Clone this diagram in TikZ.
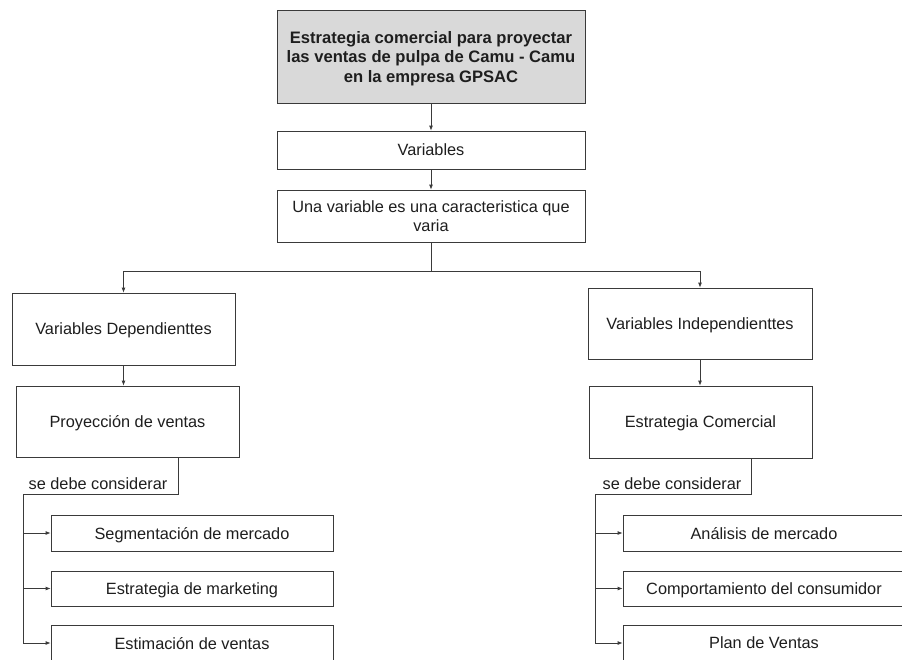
\documentclass[tikz,border=0pt]{standalone}
\usepackage{fontspec}
\setmainfont{Liberation Sans}
\usetikzlibrary{arrows.meta,calc}
\definecolor{boxline}{HTML}{3A3A3A}
\definecolor{txt}{HTML}{1E1E1E}
\definecolor{headfill}{HTML}{D9D9D9}
\tikzset{
  box/.style={draw=boxline, line width=0.8pt, fill=white, inner sep=2pt,
    align=center, text=txt, text depth=0pt, font=\fontsize{16.3}{19.5}\selectfont},
  headbox/.style={box, fill=headfill, font=\bfseries\fontsize{16.6}{19.5}\selectfont},
  link/.style={draw=boxline, line width=0.8pt},
  arr/.style={link, -{Latex[length=5pt,width=4pt]}},
  note/.style={text=txt, inner sep=0pt, font=\fontsize{16.3}{19.5}\selectfont}
}
\begin{document}
\begin{tikzpicture}[x=1pt,y=-1pt]
\useasboundingbox (0,0) rectangle (902,659);
\clip (0,0) rectangle (902,659);

% top of the tree
\node[headbox, minimum width=308, minimum height=93] (head) at (431,56.5)
  {Estrategia comercial para proyectar\\las ventas de pulpa de Camu - Camu\\en la empresa GPSAC};
\node[box, minimum width=308, minimum height=38] (vars) at (431,150) {Variables};
\node[box, minimum width=308, minimum height=52] (def) at (431,216)
  {Una variable es una caracteristica que\\varia};

% the two branches
\node[box, minimum width=223, minimum height=72] (dep) at (123.5,329) {Variables Dependienttes};
\node[box, minimum width=223, minimum height=71] (proy) at (127.5,421.5) {Proyección de ventas};
\node[box, minimum width=224, minimum height=71] (indep) at (700,323.5) {Variables Independienttes};
\node[box, minimum width=223, minimum height=72] (estr) at (700.5,422) {Estrategia Comercial};

% items under each branch
\node[box, minimum width=282, minimum height=36] (l1) at (192,533) {Segmentación de mercado};
\node[box, minimum width=282, minimum height=35] (l2) at (192,588.5) {Estrategia de marketing};
\node[box, minimum width=282, minimum height=36] (l3) at (192,643) {Estimación de ventas};
\node[box, minimum width=282, minimum height=36] (r1) at (764,533) {Análisis de mercado};
\node[box, minimum width=282, minimum height=35] (r2) at (764,588.5) {Comportamiento del consumidor};
\node[box, minimum width=282, minimum height=36] (r3) at (764,643) {Plan de Ventas};

\node[note] (lnote) at (98,484) {se debe considerar};
\node[note] (rnote) at (672,484) {se debe considerar};

% connectors
\draw[arr] (head.south) -- (vars.north);
\draw[arr] (vars.south) -- (def.north);
\coordinate (split) at (431,271);
\draw[link] (def.south) -- (split);
\draw[arr] (split) -| (dep.north);
\draw[arr] (split) -| (indep.north);
\draw[arr] (dep.south) -- (dep.south |- proy.north);
\draw[arr] (indep.south) -- (indep.south |- estr.north);

\coordinate (ldrop) at (178,494);
\coordinate (lrail) at (23,494);
\draw[link] (ldrop |- proy.south) -- (ldrop) -- (lrail) -- (lrail |- l3.west);
\foreach \n in {l1,l2,l3} \draw[arr] (lrail |- \n.west) -- (\n.west);

\coordinate (rdrop) at (751,494);
\coordinate (rrail) at (595,494);
\draw[link] (rdrop |- estr.south) -- (rdrop) -- (rrail) -- (rrail |- r3.west);
\foreach \n in {r1,r2,r3} \draw[arr] (rrail |- \n.west) -- (\n.west);
\end{tikzpicture}
\end{document}
